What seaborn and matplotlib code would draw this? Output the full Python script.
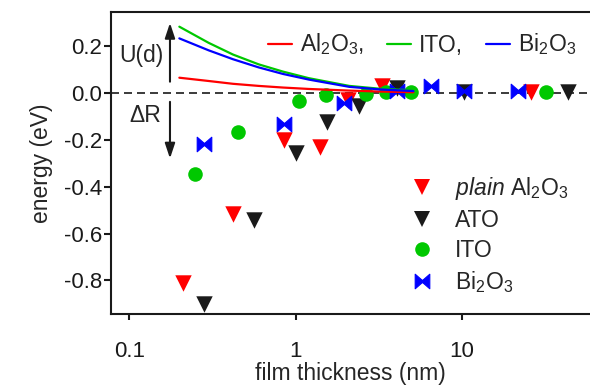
import matplotlib
matplotlib.use("Agg")
import matplotlib.pyplot as plt
from matplotlib.lines import Line2D
from matplotlib.path import Path
from matplotlib.ticker import NullLocator, FormatStrFormatter
import numpy as np
import pandas as pd
import seaborn as sns

# --- data ----------------------------------------------------------
al_x = [0.21, 0.42, 0.85, 1.41, 2.05, 3.3, 26.0]
al_y = [-0.81, -0.515, -0.20, -0.23, -0.03, 0.03, 0.003]

ato_x = [0.28, 0.56, 1.0, 1.55, 2.4, 4.05, 10.2, 43.5]
ato_y = [-0.90, -0.54, -0.255, -0.125, -0.055, 0.02, 0.006, 0.003]

ito_x = [0.25, 0.45, 1.05, 1.53, 2.65, 3.5, 4.9, 32.0]
ito_y = [-0.347, -0.168, -0.032, -0.008, -0.004, 0.006, 0.006, 0.003]

bi_x = [0.28, 0.85, 1.96, 4.05, 6.5, 10.2, 21.8]
bi_y = [-0.215, -0.132, -0.04, 0.01, 0.03, 0.01, 0.01]

# U(d) curves
ud_x = [0.2, 0.3, 0.42, 0.6, 0.84, 1.2, 2.1, 3.2, 5.1]
ud_al = [0.066, 0.052, 0.040, 0.031, 0.024, 0.018, 0.011, 0.007, 0.004]
ud_ito = [0.284, 0.215, 0.165, 0.123, 0.092, 0.064, 0.031, 0.019, 0.012]
ud_bi = [0.234, 0.183, 0.145, 0.110, 0.082, 0.058, 0.027, 0.016, 0.009]

RED, GREEN, BLUE = "#ff0000", "#00c800", "#0000ff"

sns.set_theme(style="ticks")
plt.rcParams["font.family"] = ["Liberation Sans", "DejaVu Sans"]
plt.rcParams["mathtext.fontset"] = "custom"
plt.rcParams["mathtext.rm"] = "Liberation Sans"
plt.rcParams["mathtext.it"] = "Liberation Sans:italic"
plt.rcParams["axes.unicode_minus"] = False

fig, ax = plt.subplots(figsize=(5.9, 3.85), dpi=100)
fig.subplots_adjust(left=0.188, right=1.0, bottom=0.184, top=0.969)

# two triangles pointing at each other
bowtie = Path([(-1, -1), (-1, 1), (0.15, 0), (-1, -1),
               (1, -1), (1, 1), (-0.15, 0), (1, -1)],
              [Path.MOVETO, Path.LINETO, Path.LINETO, Path.CLOSEPOLY,
               Path.MOVETO, Path.LINETO, Path.LINETO, Path.CLOSEPOLY])

ax.axhline(0, color="k", lw=1.2, ls=(0, (4.8, 3)), zorder=1)

sns.scatterplot(x=al_x, y=al_y, marker="v", s=140, color=RED, linewidth=0, ax=ax, zorder=3)
sns.scatterplot(x=ato_x, y=ato_y, marker="v", s=140, color="k", linewidth=0, ax=ax, zorder=3)
sns.scatterplot(x=ito_x, y=ito_y, marker="o", s=110, color=GREEN, linewidth=0, ax=ax, zorder=3)
sns.scatterplot(x=bi_x, y=bi_y, marker=bowtie, s=110, color=BLUE, edgecolor=BLUE,
                linewidth=0.8, ax=ax, zorder=3)

sns.lineplot(x=ud_x, y=ud_al, color=RED, lw=1.6, ax=ax, zorder=4)
sns.lineplot(x=ud_x, y=ud_ito, color=GREEN, lw=1.6, ax=ax, zorder=4)
sns.lineplot(x=ud_x, y=ud_bi, color=BLUE, lw=1.6, ax=ax, zorder=4)

ax.set_xscale("log")
ax.set_xlim(0.0776, 58.7)
ax.set_ylim(-0.944, 0.347)
ax.set_xticks([0.1, 1, 10])
ax.set_xticklabels(["0.1", "1", "10"])
ax.xaxis.set_minor_locator(NullLocator())
ax.set_yticks([-0.8, -0.6, -0.4, -0.2, 0.0, 0.2])
ax.yaxis.set_major_formatter(FormatStrFormatter("%.1f"))
ax.tick_params(direction="out", width=1.5, labelsize=16, colors="k")
ax.tick_params(axis="x", length=4, pad=15)
ax.tick_params(axis="y", length=5, pad=1.5)
for side in ["left", "top", "bottom"]:
    ax.spines[side].set_linewidth(1.5)
    ax.spines[side].set_color("k")
ax.spines["right"].set_visible(False)

ax.set_xlabel("film thickness (nm)", fontsize=16.5, labelpad=0)
ax.set_ylabel("energy (eV)", fontsize=16.5, labelpad=8)

# U(d) and dR arrows
arr = dict(arrowstyle="-|>,head_length=0.6,head_width=0.2", color="k", lw=1.5,
           mutation_scale=15, shrinkA=0, shrinkB=0)
ax.annotate("", xy=(0.1757, 0.30), xytext=(0.1757, 0.049), arrowprops=arr)
ax.annotate("", xy=(0.1757, -0.279), xytext=(0.1757, -0.037), arrowprops=arr)
ax.text(0.119, 0.163, "U(d)", ha="center", va="center", fontsize=16.5)
ax.text(0.124, -0.094, "\u0394R", ha="center", va="center", fontsize=16.5)

# legends
mk = [Line2D([], [], ls="none", marker="v", ms=11.8, color=RED, mew=0),
      Line2D([], [], ls="none", marker="v", ms=11.8, color="k", mew=0),
      Line2D([], [], ls="none", marker="o", ms=10.5, color=GREEN, mew=0),
      Line2D([], [], ls="none", marker=bowtie, ms=10.5, color=BLUE, mew=0.8)]
mk_labels = [r"$\mathit{plain}$ Al$_2$O$_3$", "ATO", "ITO", r"Bi$_2$O$_3$"]
leg1 = ax.legend(mk, mk_labels, loc="upper left", bbox_to_anchor=(0.6246, 0.46),
                 frameon=False, fontsize=16.5, handlelength=1.0, handletextpad=0.96,
                 labelspacing=0.3, borderpad=0, borderaxespad=0)
ax.add_artist(leg1)

ln = [Line2D([], [], color=c, lw=1.6) for c in (RED, GREEN, BLUE)]
ln_labels = [r"Al$_2$O$_3$,", "ITO,", r"Bi$_2$O$_3$"]
ax.legend(ln, ln_labels, loc="upper left", bbox_to_anchor=(0.328, 0.935), ncol=3,
          frameon=False, fontsize=16.5, handlelength=1.05, handletextpad=0.35,
          columnspacing=1.0, borderpad=0, borderaxespad=0)

fig.savefig("out.png", dpi=100)
